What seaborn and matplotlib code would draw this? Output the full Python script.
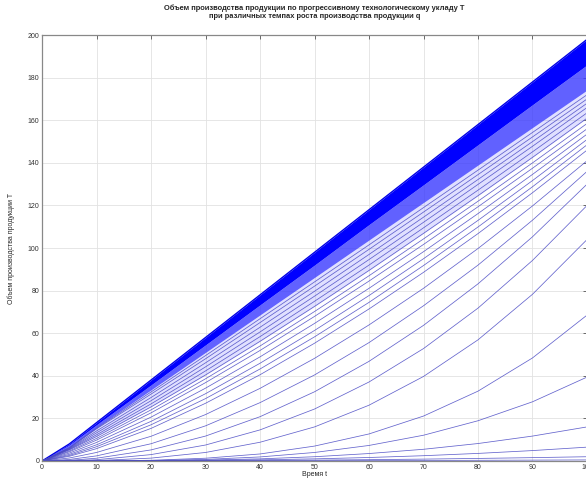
import matplotlib
matplotlib.use("Agg")
import numpy as np
import pandas as pd
import matplotlib.pyplot as plt
import seaborn as sns

# ---------------- Data ----------------
t_grid = [0, 5, 10, 20, 30, 40, 50, 60, 70, 80, 90, 100]

# dense band along the top (too many lines to tell apart)
band_top = [0, 8, 18, 38, 58, 78, 98, 118, 138, 158, 178, 198]
band_mid = [0, 7.5, 17, 35.7, 54.5, 73.3, 92, 111, 129.7, 148.5, 167.3, 186]
band_bottom = [0, 6.5, 15.8, 33.4, 51, 68.6, 86.2, 103.8, 121.4, 139, 156.6, 174.2]
band_haze = [0, 5.2, 11.5, 25.4, 40.4, 56.2, 72.6, 89.5, 106.9, 124.6, 142.6, 161]

# fan of curves below the band
upper_fan = [
    [0, 6.2, 15.4, 32.4, 49.5, 66.8, 84.1, 101.5, 119.0, 136.6, 154.3, 172],
    [0, 6.0, 15.1, 31.4, 48.0, 65.0, 82.1, 99.4, 116.9, 134.5, 152.2, 170],
    [0, 5.8, 14.1, 29.8, 46.1, 62.8, 79.7, 97.0, 114.5, 132.2, 150.0, 168],
    [0, 5.6, 13.2, 28.3, 44.2, 60.6, 77.4, 94.6, 112.1, 129.9, 147.8, 166],
    [0, 5.4, 12.3, 26.8, 42.3, 58.4, 75.0, 92.0, 109.5, 127.2, 145.2, 163.5],
    [0, 5.2, 11.5, 25.4, 40.4, 56.2, 72.6, 89.5, 106.9, 124.6, 142.6, 161],
    [0, 4.7, 10.6, 24.0, 38.6, 54.0, 70.2, 87.0, 104.3, 122.0, 140.0, 158.5],
    [0, 4.3, 9.8, 22.6, 36.8, 51.9, 67.9, 84.5, 101.7, 119.4, 137.5, 156],
    [0, 3.7, 8.7, 20.6, 34.2, 48.9, 64.6, 81.1, 98.3, 116.2, 134.6, 153.5],
    [0, 3.1, 7.6, 18.6, 31.6, 45.9, 61.3, 77.7, 95.0, 113.0, 131.7, 151],
    [0, 2.6, 6.7, 17.0, 29.3, 43.2, 58.3, 74.5, 91.8, 109.9, 128.8, 148.5],
    [0, 2.2, 5.8, 15.3, 27.1, 40.5, 55.3, 71.4, 88.6, 106.8, 126.0, 146],
]
middle_fan = [
    [0, 1.4, 4.0, 11.6, 21.8, 34.1, 48.2, 63.9, 81.1, 99.8, 119.8, 141],
    [0, 0.7, 2.4, 8.1, 16.5, 27.4, 40.4, 55.6, 72.9, 92.0, 113.1, 136],
    [0, 0.3, 1.3, 5.2, 11.7, 20.8, 32.5, 46.8, 63.7, 83.2, 105.3, 130],
    [0, 0.1, 0.6, 3.0, 7.5, 14.6, 24.4, 37.1, 52.8, 71.8, 94.2, 120],
    [0, 0.03, 0.2, 1.35, 4.0, 8.8, 16.0, 26.2, 39.7, 56.9, 78.3, 104],
]
lower_fan = [
    [0, 0, 0.03, 0.34, 1.3, 3.3, 7.0, 12.7, 21.1, 32.8, 48.4, 68.5],
    [0, 0, 0.02, 0.19, 0.74, 1.9, 4.0, 7.3, 12.1, 18.9, 27.8, 39.4],
    [0, 0, 0.02, 0.13, 0.43, 1.0, 2.0, 3.5, 5.5, 8.2, 11.7, 16],
    [0, 0, 0.01, 0.08, 0.25, 0.55, 1.0, 1.64, 2.48, 3.56, 4.89, 6.5],
    [0, 0, 0, 0.05, 0.13, 0.24, 0.41, 0.62, 0.88, 1.2, 1.57, 2.0],
    [0, 0, 0, 0.02, 0.05, 0.08, 0.13, 0.18, 0.25, 0.32, 0.41, 0.5],
]

title = ("Объем производства продукции по прогрессивному технологическому укладу T\n"
         "при различных темпах роста производства продукции q")
x_label = "Время t"
y_label = "Объем производства продукции T"

# ---------------- Long-form table for seaborn ----------------
rows = []
for i, curve in enumerate(upper_fan + middle_fan + lower_fan):
    for t, v in zip(t_grid, curve):
        rows.append({"curve": i, "t": t, "T": v})
df = pd.DataFrame(rows)

# ---------------- Plot ----------------
sns.set_style("white")
plt.rcParams["font.family"] = ["Liberation Sans", "DejaVu Sans"]

fig = plt.figure(figsize=(5.86, 4.79), dpi=100)
ax = fig.add_axes([0.0717, 0.0376, 0.930, 0.889])

ax.fill_between(t_grid, band_haze, band_bottom, color="#a8a8ff", lw=0, alpha=0.35)
ax.fill_between(t_grid, band_bottom, band_mid, color="#3a3aff", lw=0, alpha=0.8)
ax.fill_between(t_grid, band_mid, band_top, color="#0000ff", lw=0)
sns.lineplot(x=t_grid, y=band_top, color="#0000e6", lw=1.0, ax=ax)

sns.lineplot(data=df, x="t", y="T", units="curve", estimator=None,
             color="#4848c4", lw=0.55, alpha=0.85, ax=ax)

ax.set_xlim(0, 100)
ax.set_ylim(0, 200)
ax.set_xticks(range(0, 101, 10))
ax.set_yticks(range(0, 201, 20))
ax.grid(True, color="#e2e2e2", lw=0.6)
ax.set_axisbelow(True)
ax.tick_params(direction="in", length=3, width=0.6, labelsize=5,
               colors="#555555", labelcolor="#333333", top=True, right=True, pad=2)
for s in ax.spines.values():
    s.set_color("#888888")
    s.set_linewidth(0.9)

ax.set_title(title, fontsize=5.4, fontweight="bold", pad=12, linespacing=1.35)
ax.set_xlabel(x_label, fontsize=5, labelpad=0)
ax.set_ylabel(y_label, fontsize=5, labelpad=9)

fig.savefig("out.png", dpi=100)
